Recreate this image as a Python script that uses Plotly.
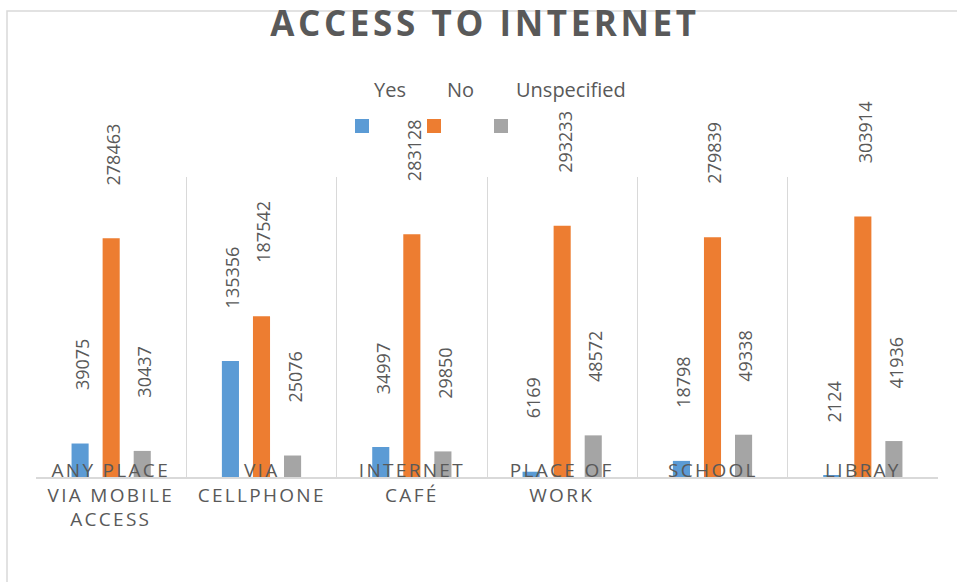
import plotly.graph_objects as go

# ---- data -------------------------------------------------------------
categories = ["ANY PLACE<br>VIA MOBILE<br>ACCESS", "VIA<br>CELLPHONE", "INTERNET<br>CAFÉ",
              "PLACE OF<br>WORK", "SCHOOL", "LIBRAY"]
series_names = ["Yes", "No", "Unspecified"]
yes_values = [39075, 135356, 34997, 6169, 18798, 2124]
no_values = [278463, 187542, 283128, 293233, 279839, 303914]
unspecified_values = [30437, 25076, 29850, 48572, 49338, 41936]

# ---- styling ----------------------------------------------------------
W, H = 957, 582
M_L, M_R, M_T, M_B = 36, 19, 177, 105
PLOT_W = W - M_L - M_R
PLOT_H = H - M_T - M_B
Y_MAX = 350000
COLORS = ["#5B9BD5", "#ED7D31", "#A5A5A5"]
TEXT = "#595959"
LINE = "#D9D9D9"
FONT = "Open Sans"
BARGAP = 0.38
GROUPGAP = 0.45


def px_x(px):
    return (px - M_L) / PLOT_W


def px_y(py):
    return (M_T + PLOT_H - py) / PLOT_H


series = [yes_values, no_values, unspecified_values]
x_idx = list(range(len(categories)))
slot = (1 - BARGAP) / len(series)

fig = go.Figure()
for name, vals, col in zip(series_names, series, COLORS):
    fig.add_trace(go.Bar(x=x_idx, y=vals, name=name, marker_color=col,
                         marker_line_width=0, showlegend=False, hoverinfo="skip"))

annotations = []
# rotated value labels above each bar
for k, vals in enumerate(series):
    for i, v in enumerate(vals):
        annotations.append(dict(
            x=i + (k - 1) * slot, y=v, xref="x", yref="y",
            text=str(v), textangle=-90, showarrow=False,
            xanchor="center", yanchor="bottom", yshift=51, xshift=2,
            font=dict(family=FONT, size=18, color=TEXT)))

# category labels sitting on the baseline
for i, c in enumerate(categories):
    annotations.append(dict(
        x=i, y=0, xref="x", yref="y", text=c, showarrow=False,
        xanchor="center", yanchor="top", yshift=22, align="center",
        font=dict(family=FONT, size=19, color=TEXT)))

# legend: names on one row, swatches on the row below
legend_text_x = [390, 460, 571]
legend_box_x = [355, 427, 494]
shapes = []
for name, tx, bx, col in zip(series_names, legend_text_x, legend_box_x, COLORS):
    annotations.append(dict(
        x=px_x(tx), y=px_y(90), xref="paper", yref="paper", text=name,
        showarrow=False, xanchor="center", yanchor="middle",
        font=dict(family=FONT, size=20, color=TEXT)))
    shapes.append(dict(type="rect", xref="paper", yref="paper",
                       x0=px_x(bx), x1=px_x(bx + 14), y0=px_y(133), y1=px_y(119),
                       fillcolor=col, line_width=0))

# chart frame
shapes.append(dict(type="rect", xref="paper", yref="paper",
                   x0=px_x(7), x1=px_x(W + 20), y0=px_y(H + 20), y1=px_y(11),
                   line=dict(color=LINE, width=1.5), fillcolor="rgba(0,0,0,0)",
                   layer="below"))

fig.update_layout(
    width=W, height=H,
    margin=dict(l=M_L, r=M_R, t=M_T, b=M_B),
    paper_bgcolor="white", plot_bgcolor="white",
    barmode="group", bargap=BARGAP, bargroupgap=GROUPGAP,
    title=dict(text="<b>ACCESS TO INTERNET</b>", x=px_x(485), xref="paper",
               xanchor="center", y=1 - 24 / H, yanchor="middle",
               font=dict(family=FONT, size=35, color=TEXT)),
    annotations=annotations, shapes=shapes,
    xaxis=dict(range=[-0.5, len(categories) - 0.5],
               tickvals=[i - 0.5 for i in range(len(categories) + 1)],
               showticklabels=False, ticks="", showgrid=True, gridcolor=LINE,
               gridwidth=1.3, zeroline=False, showline=True, linecolor=LINE,
               linewidth=2, fixedrange=True),
    yaxis=dict(range=[0, Y_MAX], visible=False, showgrid=False,
               zeroline=False, fixedrange=True),
)

# letter spacing for the title and the category labels
post_js = """
var gd = document.getElementById('{plot_id}');
function spaceOut() {
  gd.querySelectorAll('.gtitle').forEach(function(t){ t.style.letterSpacing = '3.6px'; });
  gd.querySelectorAll('.annotation-text').forEach(function(t){
    if (t.style.fontSize === '19px') { t.style.letterSpacing = '2.3px'; }
  });
}
spaceOut();
gd.on('plotly_afterplot', spaceOut);
"""

fig.write_html("out.html", post_script=post_js, config={"displayModeBar": False})
